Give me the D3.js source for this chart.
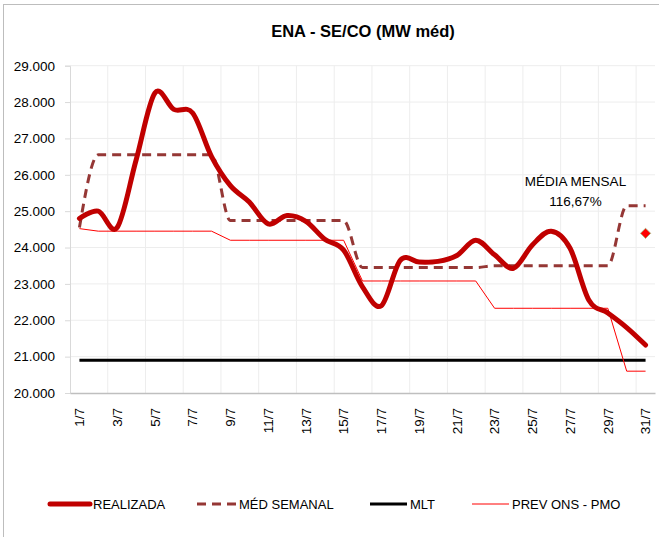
<!DOCTYPE html>
<html><head><meta charset="utf-8">
<script src="https://cdn.jsdelivr.net/npm/d3@7"></script>
<style>
html,body{margin:0;padding:0;background:#fff;}
svg text{font-family:"Liberation Sans",Arial,sans-serif;fill:#000;}
</style></head>
<body>
<script>
const days = d3.range(1, 32).map(d => d + "/7");
const realizada = [24800, 25000, 24550, 26400, 28250, 27800, 27700, 26500, 25700, 25250,
  24650, 24880, 24720, 24230, 23930, 22920, 22400, 23650, 23600, 23620,
  23780, 24200, 23800, 23430, 24070, 24450, 23980, 22550, 22200, 21800, 21320];
const medSemanal = [24550,
  26550, 26550, 26550, 26550, 26550, 26550, 26550,
  24740, 24740, 24740, 24740, 24740, 24740, 24740,
  23450, 23450, 23450, 23450, 23450, 23450, 23450,
  23500, 23500, 23500, 23500, 23500, 23500, 23500,
  25150, 25150];
const mlt = [20900, 20900, 20900, 20900, 20900, 20900, 20900, 20900, 20900, 20900,
  20900, 20900, 20900, 20900, 20900, 20900, 20900, 20900, 20900, 20900,
  20900, 20900, 20900, 20900, 20900, 20900, 20900, 20900, 20900, 20900, 20900];
const prevOns = [24520,
  24450, 24450, 24450, 24450, 24450, 24450, 24450,
  24200, 24200, 24200, 24200, 24200, 24200, 24200,
  23080, 23080, 23080, 23080, 23080, 23080, 23080,
  22330, 22330, 22330, 22330, 22330, 22330, 22330,
  20600, 20600];
const mediaMensalPoint = {day: "31/7", value: 24390};
const yTicks = [20000, 21000, 22000, 23000, 24000, 25000, 26000, 27000, 28000, 29000];
const yLabel = v => (v / 1000).toFixed(3);

const W = 659, H = 537;
const svg = d3.select("body").append("svg").attr("width", W).attr("height", H);

// chart border
svg.append("rect").attr("x", 3.5).attr("y", 4.5).attr("width", 700).attr("height", 560)
  .attr("fill", "none").attr("stroke", "#BDBDBD").attr("stroke-width", 1);

const L = 70, R = 655, T = 65.7, B = 393;
const x = d3.scaleBand().domain(days).range([L, R]).padding(0);
const y = d3.scaleLinear().domain([20000, 29000]).range([B, T]);
const cx = d => x(d) + x.bandwidth() / 2;

// gridlines
const g = svg.append("g");
g.selectAll(".hg").data(yTicks.slice(1)).join("line")
  .attr("x1", L).attr("x2", R).attr("y1", d => y(d)).attr("y2", d => y(d))
  .attr("stroke", "#EDEDED").attr("stroke-width", 1);
g.selectAll(".vg").data(days.filter((d, i) => i % 2 === 0 && i > 0)).join("line")
  .attr("x1", d => x(d)).attr("x2", d => x(d)).attr("y1", T).attr("y2", B)
  .attr("stroke", "#EDEDED").attr("stroke-width", 1);

// y axis
const yAxis = svg.append("g").attr("transform", `translate(${L},0)`)
  .call(d3.axisLeft(y).tickValues(yTicks).tickSize(5).tickPadding(10).tickFormat(yLabel));
yAxis.select(".domain").attr("stroke", "#D9D9D9");
yAxis.selectAll(".tick line").attr("stroke", "#D9D9D9");
yAxis.selectAll(".tick text").style("font-size", "13.5px").attr("fill", "#000");

// x axis
const xAxis = svg.append("g").attr("transform", `translate(0,${B})`)
  .call(d3.axisBottom(x).tickValues(days.filter((d, i) => i % 2 === 0)).tickSize(0).tickPadding(0));
xAxis.select(".domain").attr("stroke", "#BFBFBF").attr("stroke-width", 1.5);
xAxis.selectAll(".tick text")
  .style("font-size", "13.5px")
  .attr("text-anchor", "end")
  .attr("dy", "0.35em")
  .attr("transform", "translate(0,15) rotate(-90)")
  .attr("x", 0).attr("y", 0);

const lineSmooth = d3.line().x((d, i) => cx(days[i])).y(d => y(d)).curve(d3.curveCatmullRom.alpha(0));
const lineStep = d3.line().x((d, i) => cx(days[i])).y(d => y(d)).curve(d3.curveMonotoneX);
const lineStraight = d3.line().x((d, i) => cx(days[i])).y(d => y(d));

svg.append("path").attr("d", lineStraight(mlt)).attr("fill", "none")
  .attr("stroke", "#000").attr("stroke-width", 3);
svg.append("path").attr("d", lineStraight(prevOns)).attr("fill", "none")
  .attr("stroke", "#FF0000").attr("stroke-width", 1);
svg.append("path").attr("d", lineStep(medSemanal)).attr("fill", "none")
  .attr("stroke", "#953735").attr("stroke-width", 3).attr("stroke-dasharray", "9,6");
svg.append("path").attr("d", lineSmooth(realizada)).attr("fill", "none")
  .attr("stroke", "#C00000").attr("stroke-width", 5).attr("stroke-linecap", "round").attr("stroke-linejoin", "round");

svg.append("path")
  .attr("d", d3.symbol().type(d3.symbolSquare).size(52)())
  .attr("transform", `translate(${cx(mediaMensalPoint.day)},${y(mediaMensalPoint.value)}) rotate(45)`)
  .attr("fill", "#FF0000").attr("stroke", "#A3B27A").attr("stroke-width", 0.8);

svg.append("text").attr("x", 575.5).attr("y", 186).attr("text-anchor", "middle")
  .style("font-size", "13.5px").text("MÉDIA MENSAL");
svg.append("text").attr("x", 575.5).attr("y", 206).attr("text-anchor", "middle")
  .style("font-size", "13.5px").text("116,67%");

// title
svg.append("text").attr("x", 363).attr("y", 37).attr("text-anchor", "middle")
  .style("font-size", "16.5px").style("font-weight", "bold").text("ENA - SE/CO (MW méd)");

// legend
const legend = [
  {name: "REALIZADA", x1: 50, x2: 90, color: "#C00000", w: 5, dash: null, cap: "round"},
  {name: "MÉD SEMANAL", x1: 197, x2: 236, color: "#953735", w: 3, dash: "9,6", cap: "butt"},
  {name: "MLT", x1: 370, x2: 407, color: "#000", w: 3, dash: null, cap: "butt"},
  {name: "PREV ONS - PMO", x1: 472, x2: 509, color: "#FF0000", w: 1, dash: null, cap: "butt"}
];
const lg = svg.append("g");
legend.forEach(it => {
  lg.append("line").attr("x1", it.x1).attr("x2", it.x2).attr("y1", 504).attr("y2", 504)
    .attr("stroke", it.color).attr("stroke-width", it.w).attr("stroke-linecap", it.cap)
    .attr("stroke-dasharray", it.dash);
  lg.append("text").attr("x", it.x2 + 3).attr("y", 509).style("font-size", "13px").text(it.name);
});
</script>
</body></html>
